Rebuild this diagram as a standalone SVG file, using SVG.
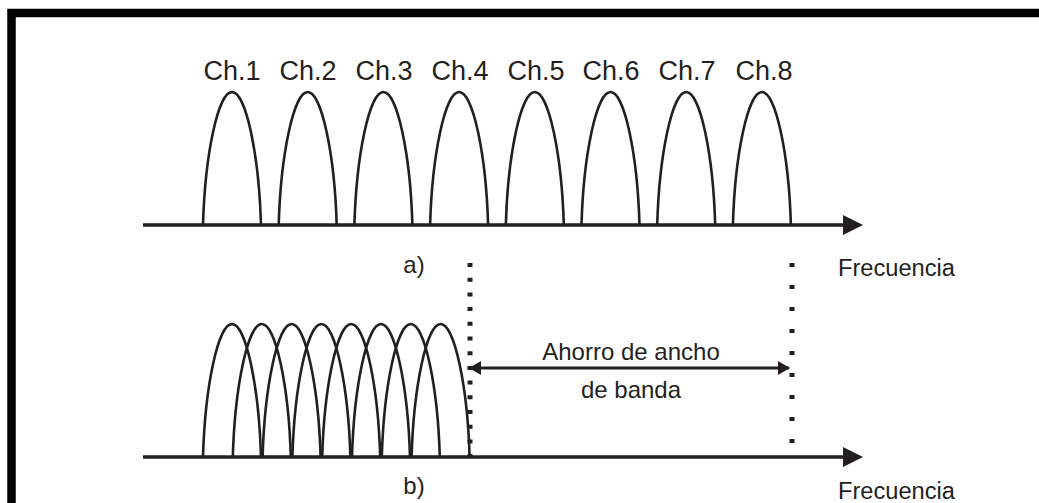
<svg xmlns="http://www.w3.org/2000/svg" width="1039" height="503" viewBox="0 0 1039 503">
<style>
.lobe{fill:none;stroke:#231f20;stroke-width:2.6}
.axis{fill:none;stroke:#231f20;stroke-width:3.5}
.dim{fill:none;stroke:#231f20;stroke-width:3}
.dots{fill:none;stroke:#231f20;stroke-width:5}
.lbl{font-family:"Liberation Sans",Arial,sans-serif;fill:#231f20;text-anchor:middle}
.ch{font-size:27px}
.sub{font-size:24px}
.note{font-size:24px}
.freq{font-size:23px;text-anchor:start}
</style>
<defs>
<path id="lobe" class="lobe" d="M-29,0 C-27,-70 -14,-133 0,-133 C14,-133 27,-70 29,0"/>
<marker id="axisHead" markerUnits="userSpaceOnUse" viewBox="0 0 20 20" refX="7" refY="10" markerWidth="20" markerHeight="20" orient="auto">
<path d="M0,0 L20,10 L0,20 z" fill="#231f20"/>
</marker>
<marker id="dimHead" markerUnits="userSpaceOnUse" viewBox="0 0 12 14" refX="11" refY="7" markerWidth="12" markerHeight="14" orient="auto-start-reverse">
<path d="M0,0 L12,7 L0,14 z" fill="#231f20"/>
</marker>
</defs>
<rect width="1039" height="503" fill="#ffffff"/>
<rect id="frame" x="11.5" y="13" width="1100" height="600" fill="none" stroke="#000000" stroke-width="8.5"/>

<g id="spectrum-a">
<use href="#lobe" x="232" y="225"/>
<use href="#lobe" x="307.7" y="225"/>
<use href="#lobe" x="383.4" y="225"/>
<use href="#lobe" x="459.1" y="225"/>
<use href="#lobe" x="534.8" y="225"/>
<use href="#lobe" x="610.5" y="225"/>
<use href="#lobe" x="686.2" y="225"/>
<use href="#lobe" x="761.9" y="225"/>
<text class="lbl ch" x="232" y="80">Ch.1</text>
<text class="lbl ch" x="308" y="80">Ch.2</text>
<text class="lbl ch" x="384" y="80">Ch.3</text>
<text class="lbl ch" x="460" y="80">Ch.4</text>
<text class="lbl ch" x="536" y="80">Ch.5</text>
<text class="lbl ch" x="611" y="80">Ch.6</text>
<text class="lbl ch" x="687" y="80">Ch.7</text>
<text class="lbl ch" x="764" y="80">Ch.8</text>
<text class="lbl sub" x="414" y="273">a)</text>
<text class="lbl freq" x="838" y="276" textLength="117" lengthAdjust="spacingAndGlyphs">Frecuencia</text>
</g>

<g id="spectrum-b">
<use href="#lobe" x="232" y="457"/>
<use href="#lobe" x="261.8" y="457"/>
<use href="#lobe" x="291.6" y="457"/>
<use href="#lobe" x="321.4" y="457"/>
<use href="#lobe" x="351.2" y="457"/>
<use href="#lobe" x="381" y="457"/>
<use href="#lobe" x="410.8" y="457"/>
<use href="#lobe" x="440.6" y="457"/>
<text class="lbl sub" x="414" y="494">b)</text>
<text class="lbl freq" x="838" y="499" textLength="117" lengthAdjust="spacingAndGlyphs">Frecuencia</text>
</g>

<g id="saving-label">
<text class="lbl note" x="631" y="360">Ahorro de ancho</text>
<text class="lbl note" x="631" y="398">de banda</text>
</g>

<g id="connectors">
<line class="axis" x1="143" y1="225" x2="850" y2="225" marker-end="url(#axisHead)"/>
<line class="axis" x1="143" y1="457" x2="850" y2="457" marker-end="url(#axisHead)"/>
<line class="dots" x1="470" y1="263" x2="470" y2="457" stroke-dasharray="4 10.7"/>
<line class="dots" x1="792" y1="263" x2="792" y2="446" stroke-dasharray="4 18"/>
<line class="dim" x1="470" y1="368" x2="789" y2="368" marker-start="url(#dimHead)" marker-end="url(#dimHead)"/>
</g>
</svg>
